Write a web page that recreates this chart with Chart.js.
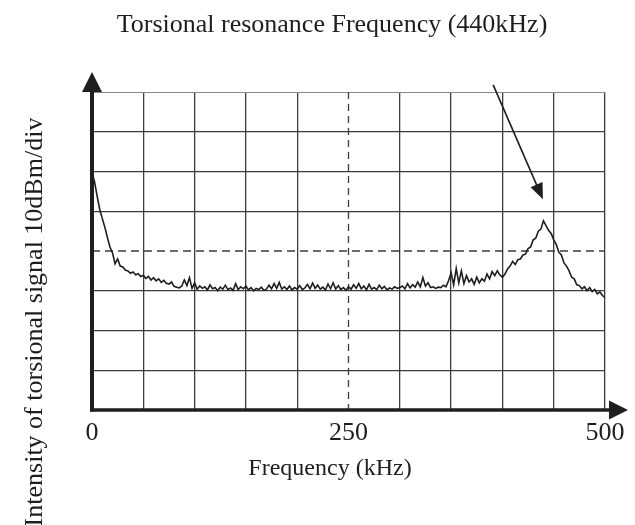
<!DOCTYPE html>
<html>
<head>
<meta charset="utf-8">
<script src="https://cdn.jsdelivr.net/npm/chart.js@4.4.1/dist/chart.umd.min.js"></script>
<style>
  html, body { margin: 0; padding: 0; background: #fff; }
</style>
</head>
<body>
<canvas id="chart" width="635" height="525"></canvas>
<script>
const chartTitle = "Torsional resonance Frequency (440kHz)";
const xTitle = "Frequency (kHz)";
const yTitle = "Intensity of torsional signal 10dBm/div";
const xTickLabels = [0, 250, 500];

// spectrum analyser trace (1 div = 10 dBm)
const frequencyKHz = [
  0, 2.5, 5, 7.5, 10, 12.5, 15, 17.5, 20, 22.5,
  25, 27.5, 30, 32.5, 35, 37.5, 40, 42.5, 45, 47.5,
  50, 52.5, 55, 57.5, 60, 62.5, 65, 67.5, 70, 72.5,
  75, 77.5, 80, 82.5, 85, 87.5, 90, 92.5, 95, 97.5,
  100, 102.5, 105, 107.5, 110, 112.5, 115, 117.5, 120, 122.5,
  125, 127.5, 130, 132.5, 135, 137.5, 140, 142.5, 145, 147.5,
  150, 152.5, 155, 157.5, 160, 162.5, 165, 167.5, 170, 172.5,
  175, 177.5, 180, 182.5, 185, 187.5, 190, 192.5, 195, 197.5,
  200, 202.5, 205, 207.5, 210, 212.5, 215, 217.5, 220, 222.5,
  225, 227.5, 230, 232.5, 235, 237.5, 240, 242.5, 245, 247.5,
  250, 252.5, 255, 257.5, 260, 262.5, 265, 267.5, 270, 272.5,
  275, 277.5, 280, 282.5, 285, 287.5, 290, 292.5, 295, 297.5,
  300, 302.5, 305, 307.5, 310, 312.5, 315, 317.5, 320, 322.5,
  325, 327.5, 330, 332.5, 335, 337.5, 340, 342.5, 345, 347.5,
  350, 352.5, 355, 357.5, 360, 362.5, 365, 367.5, 370, 372.5,
  375, 377.5, 380, 382.5, 385, 387.5, 390, 392.5, 395, 397.5,
  400, 402.5, 405, 407.5, 410, 412.5, 415, 417.5, 420, 422.5,
  425, 427.5, 430, 432.5, 435, 437.5, 440, 442.5, 445, 447.5,
  450, 452.5, 455, 457.5, 460, 462.5, 465, 467.5, 470, 472.5,
  475, 477.5, 480, 482.5, 485, 487.5, 490, 492.5, 495, 497.5,
  500
];
const intensityDiv = [
  5.96, 5.74, 5.38, 5.05, 4.82, 4.6, 4.34, 4.1, 3.95, 3.68,
  3.8, 3.62, 3.6, 3.52, 3.5, 3.44, 3.47, 3.4, 3.43, 3.36,
  3.39, 3.31, 3.36, 3.27, 3.33, 3.25, 3.3, 3.21, 3.26, 3.19,
  3.17, 3.22, 3.11, 3.09, 3.07, 3.12, 3.27, 3.13, 3.33, 3.06,
  3.2, 3.04, 3.12, 3.06, 3.1, 3.02, 3.15, 3.05, 3.08, 3.0,
  3.09, 3.04, 3.14, 3.03, 3.07, 3.01, 3.18, 3.03, 3.1, 3.05,
  3.12, 3.02, 3.08, 3.0, 3.06, 3.03, 3.09, 3.01, 3.04, 3.14,
  3.05, 3.18, 3.06, 3.21, 3.04, 3.1, 3.03, 3.12, 3.02, 3.08,
  3.04, 3.13, 3.03, 3.07, 3.16, 3.05, 3.19, 3.06, 3.14, 3.04,
  3.09, 3.02, 3.17, 3.05, 3.2, 3.04, 3.13, 3.03, 3.08, 3.01,
  3.1, 3.04, 3.15, 3.06, 3.18, 3.05, 3.12, 3.02, 3.16, 3.04,
  3.08, 3.03, 3.14, 3.05, 3.11, 3.02, 3.07, 3.04, 3.1, 3.06,
  3.08, 3.12, 3.05, 3.18, 3.07, 3.15, 3.09, 3.22, 3.1, 3.33,
  3.12, 3.2, 3.08, 3.1, 3.06, 3.09, 3.08, 3.14, 3.1, 3.25,
  3.45, 3.15, 3.56, 3.2, 3.5, 3.18, 3.38, 3.22, 3.3, 3.16,
  3.34, 3.2, 3.3, 3.24, 3.42, 3.3, 3.48, 3.38, 3.5, 3.4,
  3.34, 3.42, 3.55, 3.62, 3.74, 3.66, 3.78, 3.8, 3.9, 3.92,
  4.06, 4.1, 4.28, 4.32, 4.5, 4.55, 4.76, 4.64, 4.52, 4.44,
  4.28, 4.16, 3.97, 3.9, 3.7, 3.62, 3.5, 3.34, 3.3, 3.15,
  3.13, 3.05, 3.1, 3.0, 3.08, 2.98, 3.03, 2.92, 2.97, 2.88,
  2.83
];

// arrow pointing at the resonance peak, in [kHz, div]
const arrowFrom = [391, 8.18];
const arrowTo = [439.5, 5.3];
const dashedFrequency = 250;
const dashedLevel = 4;

const ink = "#1e1e1e";
const gridColor = "#3c3c3c";
const serif = "'Liberation Serif', 'Times New Roman', serif";

function arrowHead(ctx, x, y, angle, len, half) {
  ctx.save();
  ctx.translate(x, y);
  ctx.rotate(angle);
  ctx.beginPath();
  ctx.moveTo(0, 0);
  ctx.lineTo(-len, -half);
  ctx.lineTo(-len, half);
  ctx.closePath();
  ctx.fill();
  ctx.restore();
}

const scopeDecor = {
  id: "scopeDecor",
  beforeDatasetsDraw(chart) {
    const { ctx, chartArea: a, scales } = chart;
    const xd = scales.x.getPixelForValue(dashedFrequency);
    const yd = scales.y.getPixelForValue(dashedLevel);
    ctx.save();
    ctx.strokeStyle = gridColor;
    ctx.lineWidth = 1.3;
    ctx.setLineDash([8, 5]);
    ctx.beginPath();
    ctx.moveTo(a.left, yd);
    ctx.lineTo(a.right, yd);
    ctx.stroke();
    ctx.setLineDash([7, 5]);
    ctx.beginPath();
    ctx.moveTo(xd, a.top);
    ctx.lineTo(xd, a.bottom);
    ctx.stroke();
    ctx.restore();
  },
  afterDraw(chart) {
    const { ctx, chartArea: a, scales } = chart;
    ctx.save();
    ctx.strokeStyle = ink;
    ctx.fillStyle = ink;

    // axes with arrow heads
    ctx.lineWidth = 4;
    ctx.beginPath();
    ctx.moveTo(a.left, a.bottom + 1.5);
    ctx.lineTo(a.left, a.top - 2);
    ctx.stroke();
    ctx.lineWidth = 3.5;
    ctx.beginPath();
    ctx.moveTo(a.left - 2, a.bottom);
    ctx.lineTo(a.right + 6, a.bottom);
    ctx.stroke();
    arrowHead(ctx, a.left, a.top - 20, -Math.PI / 2, 20, 10);
    arrowHead(ctx, a.right + 23, a.bottom, 0, 19, 9.5);

    // annotation arrow
    const x0 = scales.x.getPixelForValue(arrowFrom[0]);
    const y0 = scales.y.getPixelForValue(arrowFrom[1]);
    const x1 = scales.x.getPixelForValue(arrowTo[0]);
    const y1 = scales.y.getPixelForValue(arrowTo[1]);
    const ang = Math.atan2(y1 - y0, x1 - x0);
    ctx.lineWidth = 1.6;
    ctx.beginPath();
    ctx.moveTo(x0, y0);
    ctx.lineTo(x1 - 12 * Math.cos(ang), y1 - 12 * Math.sin(ang));
    ctx.stroke();
    arrowHead(ctx, x1, y1, ang, 16, 6.5);

    // titles
    ctx.textBaseline = "alphabetic";
    ctx.textAlign = "center";
    ctx.font = "26px " + serif;
    ctx.fillText(chartTitle, 332, 32);
    ctx.font = "24px " + serif;
    ctx.fillText(xTitle, 330, 475);
    ctx.translate(42, 322);
    ctx.rotate(-Math.PI / 2);
    ctx.font = "26px " + serif;
    ctx.fillText(yTitle, 0, 0);
    ctx.restore();
  }
};

new Chart(document.getElementById("chart"), {
  type: "line",
  data: {
    datasets: [{
      data: frequencyKHz.map((f, i) => ({ x: f, y: intensityDiv[i] })),
      borderColor: ink,
      borderWidth: 1.6,
      pointRadius: 0,
      tension: 0,
      fill: false
    }]
  },
  options: {
    responsive: false,
    animation: false,
    devicePixelRatio: 1,
    layout: { padding: { left: 92, top: 92, right: 30, bottom: 0 } },
    plugins: { legend: { display: false }, tooltip: { enabled: false } },
    scales: {
      x: {
        type: "linear",
        min: 0,
        max: 500,
        border: { display: false },
        grid: {
          drawTicks: false,
          lineWidth: 1.3,
          color: (c) => (c.tick.value === 0 || c.tick.value === dashedFrequency) ? "rgba(0,0,0,0)" : gridColor
        },
        ticks: {
          stepSize: 50,
          autoSkip: false,
          maxRotation: 0,
          padding: 8,
          color: ink,
          font: { family: serif, size: 26 },
          callback: (v) => xTickLabels.includes(v) ? String(v) : ""
        },
        afterFit: (scale) => { scale.height = 115; }
      },
      y: {
        min: 0,
        max: 8,
        border: { display: false },
        grid: {
          drawTicks: false,
          lineWidth: (c) => c.tick.value === 8 ? 1 : 1.3,
          color: (c) => (c.tick.value === 0 || c.tick.value === dashedLevel) ? "rgba(0,0,0,0)"
            : (c.tick.value === 8 ? "#8a8a8a" : gridColor)
        },
        ticks: { display: false, stepSize: 1 },
        afterFit: (scale) => { scale.width = 0; }
      }
    }
  },
  plugins: [scopeDecor]
});
</script>
</body>
</html>
